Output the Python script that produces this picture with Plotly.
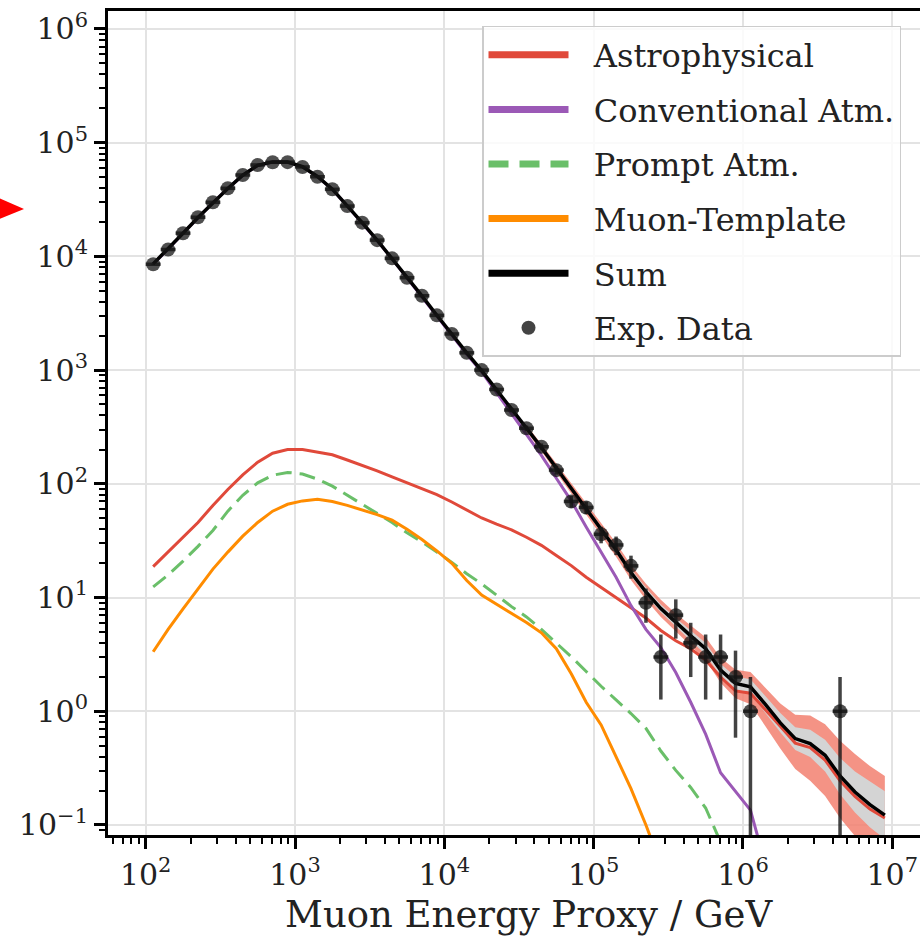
import numpy as np
import plotly.graph_objects as go

# Bin centres of the muon energy proxy (GeV), 0.1 decade wide bins
energy = [
    112.2, 141.3, 177.8, 223.9, 281.8, 354.8, 446.7, 562.3, 707.9, 891.3,
    1122, 1413, 1778, 2239, 2818, 3548, 4467, 5623, 7079, 8913,
    11220, 14130, 17780, 22390, 28180, 35480, 44670, 56230, 70790, 89130,
    112200, 141300, 177800, 223900, 281800, 354800, 446700, 562300, 707900, 891300,
    1122000, 1413000, 1778000, 2239000, 2818000, 3548000, 4467000, 5623000, 7079000, 8913000,
]

# Expected event counts per component
astrophysical = [
    18.7, 25.1, 33.9, 45.7, 64.6, 89.1, 120, 155, 186, 200,
    200, 191, 180, 162, 146, 130, 115, 102, 91.2, 80.4,
    69.2, 58.9, 50.1, 44.2, 39.4, 33.9, 28.8, 23.4, 19.1, 15.1,
    12.3, 10.0, 8.13, 6.61, 5.13, 4.17, 3.55, 2.82, 2.0, 1.51,
    1.44, 1.02, 0.74, 0.525, 0.479, 0.372, 0.245, 0.178, 0.138, 0.115,
]
conventional = [
    8570, 11570, 15960, 21950, 29740, 39520, 51700, 63050, 67620, 67410,
    61300, 50300, 38820, 27740, 19680, 13800, 9520, 6450, 4440, 2990,
    2030, 1380, 966, 631, 417, 275, 178, 112, 70.8, 41.7,
    25.1, 15.1, 8.5, 5.25, 3.63, 2.19, 1.20, 0.63, 0.288, 0.195,
    0.135, 0.045,
]
prompt = [
    12.4, 15.8, 20.9, 28.2, 38.9, 57.5, 79.4, 102, 119, 126,
    122, 110, 95.5, 79.4, 66.1, 55.0, 45.7, 37.2, 30.9, 25.1,
    20.4, 16.2, 13.2, 10.5, 8.32, 6.76, 5.25, 3.98, 3.02, 2.24,
    1.66, 1.26, 0.955, 0.708, 0.447, 0.302, 0.214, 0.141, 0.0708,
]
muon_template = [
    3.34, 5.25, 7.94, 12.0, 17.8, 25.1, 34.7, 45.7, 57.5, 66.1,
    70.8, 73.1, 70.0, 64.6, 58.9, 53.7, 47.9, 39.8, 32.4, 25.7,
    20.0, 14.1, 10.5, 8.71, 7.24, 6.03, 4.9, 3.55, 2.14, 1.2,
    0.759, 0.398, 0.209, 0.1, 0.0447,
]
total = [
    8600, 11600, 16000, 22000, 29800, 39600, 51800, 63200, 67800, 67600,
    61500, 50500, 39000, 27900, 19800, 13900, 9600, 6520, 4500, 3040,
    2070, 1420, 990, 665, 457, 309, 209, 138, 91, 60,
    40, 26.3, 16.6, 11.2, 8.0, 6.0, 4.6, 3.55, 2.3, 1.76,
    1.64, 1.15, 0.79, 0.575, 0.52, 0.41, 0.27, 0.195, 0.151, 0.122,
]

# Uncertainty bands of the sum, from the 26th bin upwards
band_start = 25
band_outer_hi = [331, 226, 151, 101, 67.6, 45.2, 30.2, 19.3, 13.2, 9.55,
                 7.24, 5.69, 4.47, 2.95, 2.32, 2.22, 1.62, 1.17, 0.93, 0.92,
                 0.77, 0.55, 0.42, 0.33, 0.27]
band_outer_lo = [288, 193, 126, 82.2, 53.7, 35.1, 22.9, 14.3, 9.55, 6.76,
                 5.01, 3.76, 2.82, 1.78, 1.30, 1.15, 0.74, 0.47, 0.31, 0.245,
                 0.18, 0.115, 0.08, 0.06, 0.05]
band_inner_hi = [320, 216, 145, 95.5, 63.8, 42.2, 28.2, 17.8, 12.2, 8.71,
                 6.61, 5.13, 3.98, 2.60, 2.02, 1.91, 1.36, 0.966, 0.724, 0.689,
                 0.562, 0.389, 0.295, 0.240, 0.198]
band_inner_lo = [299, 202, 132, 87.1, 56.9, 37.6, 24.5, 15.5, 10.4, 7.41,
                 5.50, 4.17, 3.16, 2.02, 1.53, 1.42, 0.966, 0.653, 0.457, 0.396,
                 0.295, 0.186, 0.129, 0.0955, 0.0753]

# Observed events (bins with zero counts are left out)
data_energy = [
    112.2, 141.3, 177.8, 223.9, 281.8, 354.8, 446.7, 562.3, 707.9, 891.3,
    1122, 1413, 1778, 2239, 2818, 3548, 4467, 5623, 7079, 8913,
    11220, 14130, 17780, 22390, 28180, 35480, 44670, 56230, 70790, 89130,
    112200, 141300, 177800, 223900, 281800, 354800, 446700, 562300, 707900, 891300,
    1122000, 4467000,
]
data_counts = [
    8530, 11500, 16000, 22100, 29900, 39700, 52000, 63700, 67200, 67400,
    61200, 50200, 38900, 27700, 19800, 13900, 9610, 6500, 4510, 3030,
    2080, 1420, 1000, 676, 446, 308, 212, 132, 70, 62,
    36, 29, 19, 9, 3, 7, 4, 3, 3, 2,
    1, 1,
]

x_tick_vals = [1e2, 1e3, 1e4, 1e5, 1e6, 1e7]
x_tick_text = ["10<sup>2</sup>", "10<sup>3</sup>", "10<sup>4</sup>",
               "10<sup>5</sup>", "10<sup>6</sup>", "10<sup>7</sup>"]
y_tick_vals = [1e-1, 1e0, 1e1, 1e2, 1e3, 1e4, 1e5, 1e6]
y_tick_text = ["10<sup>\u22121</sup>", "10<sup>0</sup>", "10<sup>1</sup>",
               "10<sup>2</sup>", "10<sup>3</sup>", "10<sup>4</sup>",
               "10<sup>5</sup>", "10<sup>6</sup>"]

FONT = "DejaVu Serif"
TEXT = "#222222"
RED = "#e0493a"
PURPLE = "#9b59b6"
GREEN = "#6abf69"
ORANGE = "#ff8c00"
PAD = "\u00a0\u00a0"

fig = go.Figure()

# Sum uncertainty bands
band_x = energy[band_start:]
fig.add_trace(go.Scatter(x=band_x, y=band_outer_lo, mode="lines", line=dict(width=0),
                         showlegend=False, hoverinfo="skip"))
fig.add_trace(go.Scatter(x=band_x, y=band_outer_hi, mode="lines", line=dict(width=0),
                         fill="tonexty", fillcolor="rgba(242,128,112,0.85)",
                         showlegend=False, hoverinfo="skip"))
fig.add_trace(go.Scatter(x=band_x, y=band_inner_lo, mode="lines", line=dict(width=0),
                         showlegend=False, hoverinfo="skip"))
fig.add_trace(go.Scatter(x=band_x, y=band_inner_hi, mode="lines", line=dict(width=0),
                         fill="tonexty", fillcolor="rgba(212,212,212,1)",
                         showlegend=False, hoverinfo="skip"))

# Model components (legend entries are drawn with thicker handles below)
components = [
    ("Astrophysical", astrophysical, RED, None, "a"),
    ("Conventional Atm.", conventional, PURPLE, None, "b"),
    ("Prompt Atm.", prompt, GREEN, "16px,8px", "c"),
    ("Muon-Template", muon_template, ORANGE, None, "d"),
    ("Sum", total, "black", None, "e"),
]
for name, values, color, dash, group in components:
    width = 3.5 if color == "black" else 3
    fig.add_trace(go.Scatter(x=energy[:len(values)], y=values, mode="lines",
                             name=name, legendgroup=group, showlegend=False,
                             line=dict(color=color, width=width, dash=dash)))

counts = np.array(data_counts, dtype=float)
xe = np.array(data_energy)
err_y = np.sqrt(counts)
half_bin = 10 ** 0.05
fig.add_trace(go.Scatter(
    x=data_energy, y=data_counts, mode="markers", name="Exp. Data", legendgroup="f",
    showlegend=False,
    marker=dict(color="rgba(20,20,20,0.75)", size=14, line=dict(width=0)),
    error_y=dict(type="data", array=err_y, arrayminus=err_y, color="rgba(20,20,20,0.8)",
                 thickness=3.5, width=0),
    error_x=dict(type="data", array=xe * half_bin - xe, arrayminus=xe - xe / half_bin,
                 color="rgba(20,20,20,0.8)", thickness=3.5, width=0),
))

# Legend handles
for name, values, color, dash, group in components:
    legend_dash = "20px,11px" if dash else None
    fig.add_trace(go.Scatter(x=[None], y=[None], mode="lines", name=PAD + name,
                             legendgroup=group, hoverinfo="skip",
                             line=dict(color=color, width=7, dash=legend_dash)))
fig.add_trace(go.Scatter(x=[None], y=[None], mode="markers", name=PAD + "Exp. Data",
                         legendgroup="f", hoverinfo="skip",
                         marker=dict(color="rgba(20,20,20,0.8)", size=14)))

axis_common = dict(
    type="log", showline=True, linecolor="black", linewidth=3,
    ticks="outside", ticklen=11, tickwidth=3, tickcolor="black",
    showgrid=True, gridcolor="#e3e3e3", gridwidth=2, zeroline=False,
    tickfont=dict(family=FONT, size=30, color=TEXT),
    minor=dict(ticks="outside", ticklen=6, tickwidth=1.5, tickcolor="black",
               dtick="D1", showgrid=False),
)

fig.update_xaxes(
    **axis_common, range=[1.7475, 7.1855], mirror=True,
    tickvals=x_tick_vals, ticktext=x_tick_text,
)
fig.update_yaxes(
    **axis_common, range=[-1.088, 6.158], mirror=False,
    tickvals=y_tick_vals, ticktext=y_tick_text,
)

# x-axis title
fig.add_annotation(text="Muon Energy Proxy / GeV", xref="paper", yref="paper",
                   x=0.5185, y=-0.097, xanchor="center", yanchor="middle",
                   showarrow=False, font=dict(family=FONT, size=37, color=TEXT))

# Marker arrow at the left edge
fig.add_shape(type="path", xref="paper", yref="paper",
              path="M -0.14,0.7755 L -0.1034,0.7597 L -0.14,0.7451 Z",
              fillcolor="#ff0000", line=dict(width=0))

fig.update_layout(
    width=920, height=943,
    margin=dict(l=108, r=0, t=11, b=108),
    plot_bgcolor="white", paper_bgcolor="white",
    font=dict(family=FONT, color=TEXT),
    legend=dict(
        x=0.4606, y=0.9818, xanchor="left", yanchor="top",
        bgcolor="rgba(255,255,255,0.8)", bordercolor="#cccccc", borderwidth=1.5,
        font=dict(family=FONT, size=32, color=TEXT),
        itemwidth=80, traceorder="grouped", tracegroupgap=10,
    ),
)

fig.write_html("out.html")
